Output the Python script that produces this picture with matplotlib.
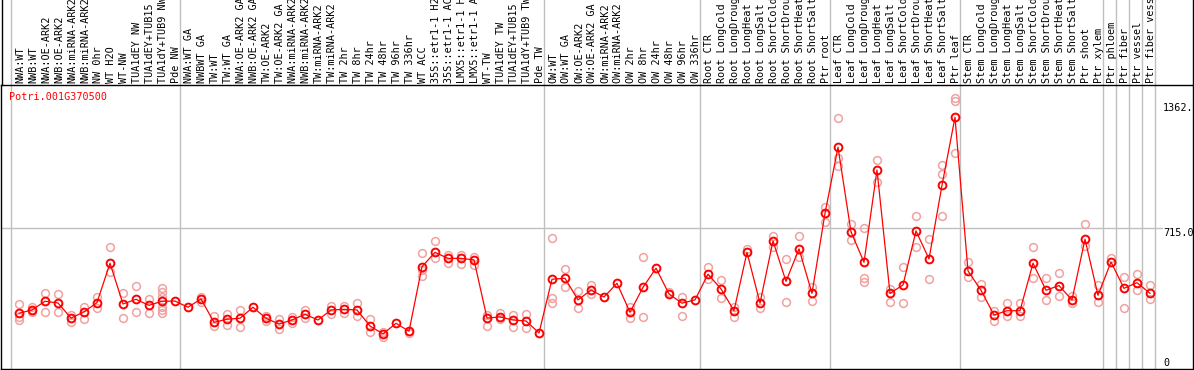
import matplotlib
matplotlib.use("Agg")
import matplotlib.pyplot as plt
from matplotlib.lines import Line2D
from matplotlib.transforms import blended_transform_factory

GENE = "Potri.001G370500"

SAMPLES = [
    "NWA:WT", "NWB:WT", "NWA:OE-ARK2", "NWB:OE-ARK2", "NWA:miRNA-ARK2",
    "NWB:miRNA-ARK2", "NW 0hr", "WT H2O", "WT-NW", "TUA1dEY NW",
    "TUA1dEY+TUB15 NW", "TUA1dY+TUB9 NW", "Pde NW",
    "NWA:WT GA", "NWBWT GA", "TW:WT", "TW:WT GA", "NWA:OE-ARK2 GA",
    "NWB:OE-ARK2 GA", "TW:OE-ARK2", "TW:OE-ARK2 GA", "NWA:miRNA-ARK2 GA",
    "NWB:miRNA-ARK2 GA", "TW:miRNA-ARK2", "TW:miRNA-ARK2 GA", "TW 2hr",
    "TW 8hr", "TW 24hr", "TW 48hr", "TW 96hr", "TW 336hr", "WT ACC",
    "35S::etr1-1 H2O", "35S::etr1-1 ACC", "LMX5::etr1-1 H2O",
    "LMX5::etr1-1 ACC", "WT-TW", "TUA1dEY TW", "TUA1dEY+TUB15 TW",
    "TUA1dY+TUB9 TW", "Pde TW",
    "OW:WT", "OW:WT GA", "OW:OE-ARK2", "OW:OE-ARK2 GA", "OW:miRNA-ARK2",
    "OW:miRNA-ARK2 GA", "OW 2hr", "OW 8hr", "OW 24hr", "OW 48hr", "OW 96hr",
    "OW 336hr",
    "Root CTR", "Root LongCold", "Root LongDrought", "Root LongHeat",
    "Root LongSalt", "Root ShortCold", "Root ShortDrought", "Root ShortHeat",
    "Root ShortSalt", "Ptr root",
    "Leaf CTR", "Leaf LongCold", "Leaf LongDrought", "Leaf LongHeat",
    "Leaf LongSalt", "Leaf ShortCold", "Leaf ShortDrought", "Leaf ShortHeat",
    "Leaf ShortSalt", "Ptr leaf",
    "Stem CTR", "Stem LongCold", "Stem LongDrought", "Stem LongHeat",
    "Stem LongSalt", "Stem ShortCold", "Stem ShortDrought", "Stem ShortHeat",
    "Stem ShortSalt", "Ptr shoot", "Ptr xylem",
    "Ptr phloem", "Ptr fiber", "Ptr vessel", "Ptr fiber vessel",
]

MEANS = [
    273, 290, 335, 326, 248, 280, 328, 532, 321, 345,
    314, 335, 336, 304, 347, 226, 242, 247, 304, 247,
    217, 238, 268, 238, 290, 293, 290, 207, 166, 221,
    180, 514, 588, 557, 557, 549, 248, 254, 238, 233,
    171, 449, 454, 342, 393, 357, 428, 278, 407, 506,
    373, 325, 342, 475, 399, 286, 588, 325, 647, 438,
    606, 376, 790, 1132, 694, 537, 1014, 376, 419, 699,
    554, 935, 1287, 492, 392, 264, 286, 286, 532, 392,
    416, 342, 656, 366, 538, 402, 431, 376,
]

REPLICATES = [
    [321, 252, 238], [304, 290, 278], [376, 281], [371, 278], [264, 229],
    [304, 243], [356, 299], [614, 488], [376, 247], [414, 278],
    [347, 273], [405, 381, 359, 307, 290, 273], [], [], [359, 333],
    [260, 207], [269, 212], [290, 200], [], [259, 235],
    [243, 190], [255, 221], [290, 247], [], [311, 268],
    [311, 276], [328, 260], [242, 178], [178, 152], [],
    [169], [583, 497, 466], [645, 557], [575, 535], [575, 530],
    [566, 523], [264, 209], [273, 242], [264, 200], [269, 195],
    [], [661, 350, 328], [500, 407], [388, 299], [419, 371],
    [], [], [304, 247], [563, 252], [],
    [381], [356, 257], [], [514, 452], [443, 350],
    [307, 255], [606], [359, 299], [673, 618], [552, 330],
    [673, 566], [407, 336], [825, 744], [1282, 1075, 1035], [733, 652],
    [713, 454, 436], [1066, 954], [399, 333], [511, 325], [776, 614],
    [656, 449], [1040, 992, 776], [1386, 1373, 1101], [540, 462], [424, 356],
    [285, 233], [328, 260], [328, 260], [614, 454], [454, 342],
    [480, 362], [362, 328], [733, 621], [419, 333], [561],
    [462, 299], [476, 393], [419, 345],
]

# group separators fall after these sample indices
SEPARATORS_AFTER = [-1, 12, 40, 52, 62, 72, 83, 84, 85, 86, 87]
Y_LABELS = [(1362, "1362.", "top"), (715, "715.0", "top"), (0, "0", "baseline")]
GRID_Y = 715

FONT = "DejaVu Sans Mono"
FS = 7.3

W, H = 1194, 370
fig = plt.figure(figsize=(W / 100, H / 100), dpi=100)
fig.patch.set_facecolor("white")
ax_l, ax_r, ax_t, ax_b = 1.0, 1193.0, 85.0, 369.0
ax = fig.add_axes([ax_l / W, 1 - ax_b / H, (ax_r - ax_l) / W, (ax_b - ax_t) / H])

x = list(range(len(SAMPLES)))
x0 = -(19 - ax_l) / 13.0
ax.set_xlim(x0, x0 + (ax_r - ax_l) / 13.0)
ax.set_ylim(-15.5, 1454)

# separators (extend up through the label area)
ext = 1 + ax_t / (ax_b - ax_t)
for s in SEPARATORS_AFTER:
    ax.axvline(s + 0.41, ymin=0, ymax=ext, color="#c0c0c0", lw=1.0,
               clip_on=False, zorder=1)
ax.axhline(GRID_Y, xmin=0, xmax=(1162 - ax_l) / (ax_r - ax_l),
           color="#c0c0c0", lw=1.0, zorder=1)

# replicates
rx, ry = [], []
for i, reps in enumerate(REPLICATES):
    for v in reps:
        rx.append(i)
        ry.append(v)
ax.plot(rx, ry, ls="none", marker="o", ms=5.6, mfc="none", mec="#f0a2a2",
        mew=1.1, zorder=2)

# means
ax.plot(x, MEANS, color="#ff0000", lw=0.9, zorder=3)
ax.plot(x, MEANS, ls="none", marker="o", ms=5.6, mfc="none", mec="#ff0000",
        mew=1.4, zorder=4)

ax.set_xticks([])
ax.set_yticks([])
for sp in ax.spines.values():
    sp.set_color("black")
    sp.set_linewidth(1.0)

# sample labels above the plot (long ones run off the top, as in the original)
tr = blended_transform_factory(ax.transData, ax.transAxes)
for i, name in enumerate(SAMPLES):
    ax.text(i + 0.1, 1.008, name, transform=tr, rotation=90, ha="center",
            va="bottom", fontsize=FS, family=FONT, color="black",
            clip_on=False)

# value labels on the right
tr_y = blended_transform_factory(ax.transAxes, ax.transData)
for v, lbl, va in Y_LABELS:
    ax.text((1163 - ax_l) / (ax_r - ax_l), v, lbl, transform=tr_y,
            ha="left", va=va, fontsize=FS, family=FONT, color="black",
            clip_on=True)

ax.text(0.007, 0.975, GENE, transform=ax.transAxes, ha="left", va="top",
        fontsize=FS, family=FONT, color="#ff0000")

# outer frame lines through the label area
for px in (ax_l + 0.5, ax_r - 0.5):
    fig.add_artist(Line2D([px / W, px / W], [1 - ax_t / H, 1.0],
                          color="black", lw=1.0))

fig.savefig("out.png", dpi=100, facecolor="white")
